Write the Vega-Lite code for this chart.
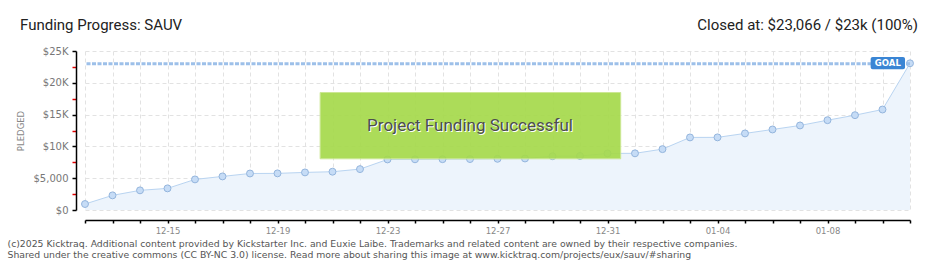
{
  "$schema": "https://vega.github.io/schema/vega-lite/v6.json",
  "width": 825,
  "height": 159,
  "autosize": {"type": "none"},
  "padding": {"left": 85, "top": 51, "right": 30, "bottom": 60},
  "background": "white",
  "config": {"view": {"stroke": null}},
  "datasets": {
    "pledges": [
      {"date": "2024-12-12", "amount": 940},
      {"date": "2024-12-13", "amount": 2300},
      {"date": "2024-12-14", "amount": 3090},
      {"date": "2024-12-15", "amount": 3400},
      {"date": "2024-12-16", "amount": 4810},
      {"date": "2024-12-17", "amount": 5280},
      {"date": "2024-12-18", "amount": 5740},
      {"date": "2024-12-19", "amount": 5760},
      {"date": "2024-12-20", "amount": 5910},
      {"date": "2024-12-21", "amount": 6020},
      {"date": "2024-12-22", "amount": 6430},
      {"date": "2024-12-23", "amount": 7950},
      {"date": "2024-12-24", "amount": 7970},
      {"date": "2024-12-25", "amount": 7990},
      {"date": "2024-12-26", "amount": 8010},
      {"date": "2024-12-27", "amount": 8050},
      {"date": "2024-12-28", "amount": 8100},
      {"date": "2024-12-29", "amount": 8460},
      {"date": "2024-12-30", "amount": 8490},
      {"date": "2024-12-31", "amount": 8900},
      {"date": "2025-01-01", "amount": 8910},
      {"date": "2025-01-02", "amount": 9570},
      {"date": "2025-01-03", "amount": 11410},
      {"date": "2025-01-04", "amount": 11420},
      {"date": "2025-01-05", "amount": 12040},
      {"date": "2025-01-06", "amount": 12660},
      {"date": "2025-01-07", "amount": 13290},
      {"date": "2025-01-08", "amount": 14120},
      {"date": "2025-01-09", "amount": 14910},
      {"date": "2025-01-10", "amount": 15800},
      {"date": "2025-01-11", "amount": 23066}
    ],
    "goal": [
      {"label": "GOAL", "amount": 23000}
    ],
    "goalTag": [
      {"label": "GOAL", "date": "2025-01-09T13:40:00Z", "date2": "2025-01-10T19:40:00Z", "amount": 22130, "amount2": 24060}
    ],
    "goalLabel": [
      {"label": "GOAL", "date": "2025-01-10T04:40:00Z", "amount": 23100}
    ],
    "status": [
      {"label": "Project Funding Successful", "date": "2024-12-20T13:12:00Z", "date2": "2024-12-31T11:31:00Z", "amount": 8050, "amount2": 18470}
    ],
    "statusLabel": [
      {"label": "Project Funding Successful", "date": "2024-12-26T00:00:00Z", "amount": 13260}
    ],
    "headings": [
      {"label": "Funding Progress: SAUV", "date": "2024-12-12", "amount": 28250, "side": "left"},
      {"label": "Closed at:  $23,066 /  $23k (100%)", "date": "2025-01-11", "amount": 28250, "side": "right"}
    ]
  },
  "encoding": {
    "x": {
      "field": "date",
      "type": "temporal",
      "scale": {"type": "utc", "nice": false, "domain": [{"year": 2024, "month": 12, "date": 12, "utc": true}, {"year": 2025, "month": 1, "date": 11, "utc": true}]},
      "axis": {
        "title": [
          "(c)2025 Kicktraq. Additional content provided by Kickstarter Inc. and Euxie Laibe. Trademarks and related content are owned by their respective companies.",
          "Shared under the creative commons (CC BY-NC 3.0) license. Read more about sharing this image at www.kicktraq.com/projects/eux/sauv/#sharing"
        ],
        "titleFont": "DejaVu Sans",
        "titleFontSize": 9.3,
        "titleColor": "#555555",
        "titleFontWeight": "normal",
        "titleX": -78,
        "titleY": 19.5,
        "titleAlign": "left",
        "titleAnchor": "start",
        "titleBaseline": "top",
        "titleLineHeight": 11,
        "tickCount": {"interval": "day", "step": 1},
        "offset": 10,
        "domain": true,
        "domainColor": "#000000",
        "domainWidth": 1.5,
        "ticks": true,
        "tickColor": "#000000",
        "tickWidth": 1.5,
        "tickSize": 3,
        "labelExpr": "(datum.value - utc(2024, 11, 15)) % 345600000 == 0 ? utcFormat(datum.value, '%m-%d') : ''",
        "labelFont": "DejaVu Sans",
        "labelFontSize": 8.5,
        "labelColor": "#888888",
        "labelPadding": 3,
        "labelOverlap": false,
        "labelFlush": false,
        "grid": true,
        "gridColor": "#e2e2e2",
        "gridDash": [4, 3]
      }
    },
    "y": {
      "field": "amount",
      "type": "quantitative",
      "scale": {"domain": [0, 25000], "nice": false},
      "axis": {
        "title": "PLEDGED",
        "titleFont": "DejaVu Sans",
        "titleFontSize": 8.5,
        "titleColor": "#888888",
        "titleFontWeight": "normal",
        "titleAngle": -90,
        "titleX": -56,
        "titleY": 79.5,
        "titleAlign": "center",
        "titleBaseline": "middle",
        "values": [0, 2500, 5000, 7500, 10000, 12500, 15000, 17500, 20000, 22500, 25000],
        "offset": 9,
        "domain": true,
        "domainColor": "#000000",
        "domainWidth": 1.5,
        "ticks": true,
        "tickSize": 4,
        "tickWidth": 1.5,
        "tickColor": {"condition": {"test": "datum.value % 5000 != 0", "value": "#e00000"}, "value": "#000000"},
        "labelExpr": "datum.value % 5000 != 0 ? '' : datum.value == 0 ? '$0' : datum.value == 5000 ? '$5,000' : '$' + (datum.value / 1000) + 'K'",
        "labelFont": "DejaVu Sans",
        "labelFontSize": 10,
        "labelColor": "#777777",
        "labelPadding": 4,
        "labelOverlap": false,
        "grid": true,
        "gridColor": "#e2e2e2",
        "gridDash": [4, 3],
        "gridOpacity": {"condition": {"test": "datum.value % 5000 != 0", "value": 0}, "value": 1}
      }
    }
  },
  "layer": [
    {
      "data": {"name": "pledges"},
      "mark": {"type": "area", "color": "#edf4fc", "opacity": 1, "line": {"color": "#b9d4f1", "strokeWidth": 1}}
    },
    {
      "data": {"name": "pledges"},
      "mark": {"type": "point", "filled": true, "fill": "#c6dcf6", "stroke": "#94b5dd", "strokeWidth": 1, "size": 48, "opacity": 1}
    },
    {
      "data": {"name": "goal"},
      "mark": {"type": "rule", "color": "#9dc0e9", "strokeWidth": 3, "strokeDash": [4, 1.5]},
      "encoding": {
        "x": null
      }
    },
    {
      "data": {"name": "goalTag"},
      "mark": {"type": "rect", "fill": "#3a85d4", "cornerRadius": 2},
      "encoding": {
        "x2": {"field": "date2"},
        "y2": {"field": "amount2"}
      }
    },
    {
      "data": {"name": "goalLabel"},
      "mark": {"type": "text", "color": "white", "font": "DejaVu Sans", "fontSize": 8.5, "fontWeight": "bold", "baseline": "middle", "align": "center"},
      "encoding": {
        "text": {"field": "label"}
      }
    },
    {
      "data": {"name": "status"},
      "mark": {"type": "rect", "fill": "#a6da4c", "opacity": 0.92, "stroke": "#c8e68c", "strokeWidth": 1},
      "encoding": {
        "x2": {"field": "date2"},
        "y2": {"field": "amount2"}
      }
    },
    {
      "data": {"name": "statusLabel"},
      "mark": {"type": "text", "color": "#ffffff", "font": "Roboto", "fontSize": 17, "baseline": "middle", "align": "center", "dx": 1, "dy": 1},
      "encoding": {
        "text": {"field": "label"}
      }
    },
    {
      "data": {"name": "statusLabel"},
      "mark": {"type": "text", "color": "#4d4d4d", "font": "Roboto", "fontSize": 17, "baseline": "middle", "align": "center"},
      "encoding": {
        "text": {"field": "label"}
      }
    },
    {
      "data": {"name": "headings"},
      "transform": [{"filter": "datum.side == 'left'"}],
      "mark": {"type": "text", "color": "#222222", "font": "Roboto", "fontSize": 15, "baseline": "alphabetic", "align": "left", "dx": -65},
      "encoding": {
        "text": {"field": "label"}
      }
    },
    {
      "data": {"name": "headings"},
      "transform": [{"filter": "datum.side == 'right'"}],
      "mark": {"type": "text", "color": "#222222", "font": "Roboto", "fontSize": 15, "baseline": "alphabetic", "align": "right", "dx": 8},
      "encoding": {
        "text": {"field": "label"}
      }
    }
  ]
}
